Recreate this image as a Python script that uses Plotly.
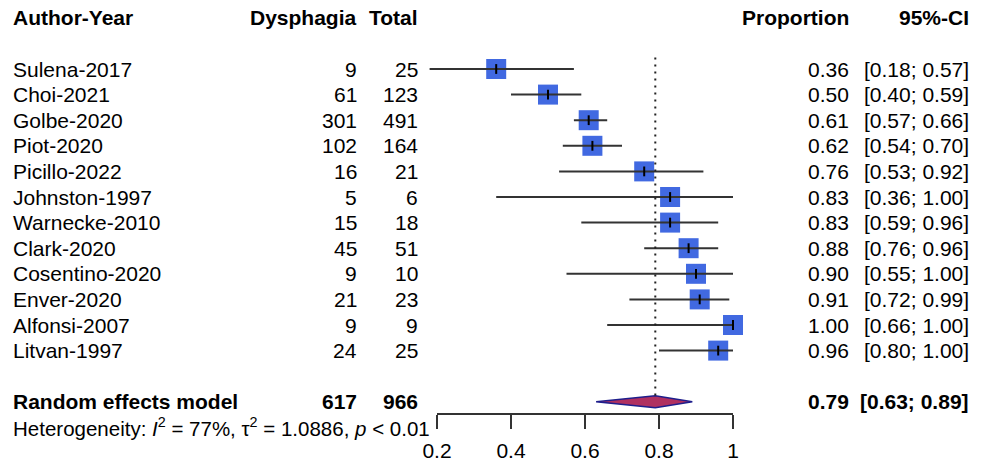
import plotly.graph_objects as go

# ---------------- data ----------------
studies = ["Sulena-2017", "Choi-2021", "Golbe-2020", "Piot-2020", "Picillo-2022",
           "Johnston-1997", "Warnecke-2010", "Clark-2020", "Cosentino-2020",
           "Enver-2020", "Alfonsi-2007", "Litvan-1997"]
events = [9, 61, 301, 102, 16, 5, 15, 45, 9, 21, 9, 24]
totals = [25, 123, 491, 164, 21, 6, 18, 51, 10, 23, 9, 25]
prop = [0.36, 0.50, 0.61, 0.62, 0.76, 0.83, 0.83, 0.88, 0.90, 0.91, 1.00, 0.96]
ci_lo = [0.18, 0.40, 0.57, 0.54, 0.53, 0.36, 0.59, 0.76, 0.55, 0.72, 0.66, 0.80]
ci_hi = [0.57, 0.59, 0.66, 0.70, 0.92, 1.00, 0.96, 0.96, 1.00, 0.99, 1.00, 1.00]

summary_label = "Random effects model"
summary_events = 617
summary_total = 966
summary_est = 0.79
summary_lo = 0.63
summary_hi = 0.89

tick_vals = [0.2, 0.4, 0.6, 0.8, 1.0]
tick_text = ["0.2", "0.4", "0.6", "0.8", "1"]

# ---------------- layout geometry ----------------
W, H = 986, 461
ROW0_PX = 17.8      # pixel y of header row
ROW_H = 25.6        # pixel height of one row
X02_PX, X1_PX = 437, 733   # pixel x of 0.2 and 1.0
ppu = (X1_PX - X02_PX) / 0.8

def px_of(v):
    return X02_PX + (v - 0.2) * ppu

FONT = "Liberation Sans, Arial, Helvetica, sans-serif"
FS = 21

study_rows = [2 + i for i in range(len(studies))]
summary_row = 15
het_row = (427 - ROW0_PX) / ROW_H

fig = go.Figure()

# squares
fig.add_trace(go.Scatter(
    x=prop, y=study_rows, mode="markers",
    marker=dict(symbol="square", size=20, color="#4169E1", line=dict(width=0)),
    cliponaxis=False, hoverinfo="skip", showlegend=False))

# whiskers
wx, wy = [], []
for lo, hi, r in zip(ci_lo, ci_hi, study_rows):
    wx += [lo, hi, None]
    wy += [r, r, None]
fig.add_trace(go.Scatter(
    x=wx, y=wy, mode="lines", line=dict(color="#333333", width=2),
    hoverinfo="skip", showlegend=False))

# centre ticks
fig.add_trace(go.Scatter(
    x=prop, y=study_rows, mode="markers",
    marker=dict(symbol="line-ns", size=7, line=dict(width=2, color="black")),
    cliponaxis=False, hoverinfo="skip", showlegend=False))

# summary diamond
h = 6.0 / ROW_H
fig.add_trace(go.Scatter(
    x=[summary_lo, summary_est, summary_hi, summary_est, summary_lo],
    y=[summary_row, summary_row - h, summary_row, summary_row + h, summary_row],
    mode="lines", fill="toself", fillcolor="#B03060",
    line=dict(color="#1E1E8C", width=1.5),
    hoverinfo="skip", showlegend=False))

# dotted reference line at summary estimate
fig.add_shape(type="line", xref="x", yref="y",
              x0=summary_est, x1=summary_est, y0=1.55, y1=summary_row - h,
              line=dict(color="#222222", width=2, dash="2px,5px"))

# dummy trace for visible axis
fig.add_trace(go.Scatter(x=[0.2, 1.0], y=[None, None], xaxis="x2", yaxis="y",
                         mode="markers", hoverinfo="skip", showlegend=False))

# ---------------- text ----------------
def ann(text, xpx, row, anchor, size=FS):
    fig.add_annotation(text=text, x=xpx / W, xref="paper", y=row, yref="y",
                       xanchor=anchor, yanchor="middle", showarrow=False,
                       borderpad=0, borderwidth=0,
                       font=dict(family=FONT, size=size, color="black"))

COL_NAME, COL_EV, COL_TOT, COL_PROP, COL_CI = 13, 357, 418, 849, 969

ann("<b>Author-Year</b>", COL_NAME, 0, "left")
ann("<b>Dysphagia</b>", COL_EV, 0, "right")
ann("<b>Total</b>", COL_TOT, 0, "right")
ann("<b>Proportion</b>", COL_PROP, 0, "right")
ann("<b>95%-CI</b>", COL_CI, 0, "right")

for s, e, t, p, lo, hi, r in zip(studies, events, totals, prop, ci_lo, ci_hi, study_rows):
    ann(s, COL_NAME, r, "left")
    ann(str(e), COL_EV, r, "right")
    ann(str(t), COL_TOT, r, "right")
    ann(f"{p:.2f}", COL_PROP, r, "right")
    ann(f"[{lo:.2f}; {hi:.2f}]", COL_CI, r, "right")

ann(f"<b>{summary_label}</b>", COL_NAME, summary_row, "left")
ann(f"<b>{summary_events}</b>", COL_EV, summary_row, "right")
ann(f"<b>{summary_total}</b>", COL_TOT, summary_row, "right")
ann(f"<b>{summary_est:.2f}</b>", COL_PROP, summary_row, "right")
ann(f"<b>[{summary_lo:.2f}; {summary_hi:.2f}]</b>", COL_CI, summary_row, "right")

ann("Heterogeneity: <i>I</i><sup>2</sup> = 77%, τ<sup>2</sup> = 1.0886, <i>p</i> &lt; 0.01",
    COL_NAME, het_row, "left", size=20.5)

# ---------------- axes ----------------
xr = [0.1, 1.1]
fig.update_layout(
    width=W, height=H,
    margin=dict(l=0, r=0, t=0, b=0),
    paper_bgcolor="white", plot_bgcolor="rgba(0,0,0,0)",
    showlegend=False,
    xaxis=dict(range=xr, domain=[px_of(xr[0]) / W, px_of(xr[1]) / W],
               visible=False, showgrid=False, zeroline=False, automargin=False),
    xaxis2=dict(range=[0.2, 1.0], domain=[X02_PX / W, X1_PX / W],
                anchor="free", position=(H - 414) / H,
                showline=True, linecolor="#333333", linewidth=1.5,
                ticks="outside", ticklen=14, tickwidth=1.5, tickcolor="#333333",
                tickvals=tick_vals, ticktext=tick_text,
                tickfont=dict(family=FONT, size=FS, color="black"),
                ticklabelstandoff=4,
                showgrid=False, zeroline=False, automargin=False),
    yaxis=dict(range=[(H - ROW0_PX) / ROW_H, -ROW0_PX / ROW_H], domain=[0, 1],
               visible=False, showgrid=False, zeroline=False, automargin=False),
)

fig.write_html("out.html", config={"displayModeBar": False},
               post_script="document.body.style.margin='0px';document.body.style.overflow='hidden';")
